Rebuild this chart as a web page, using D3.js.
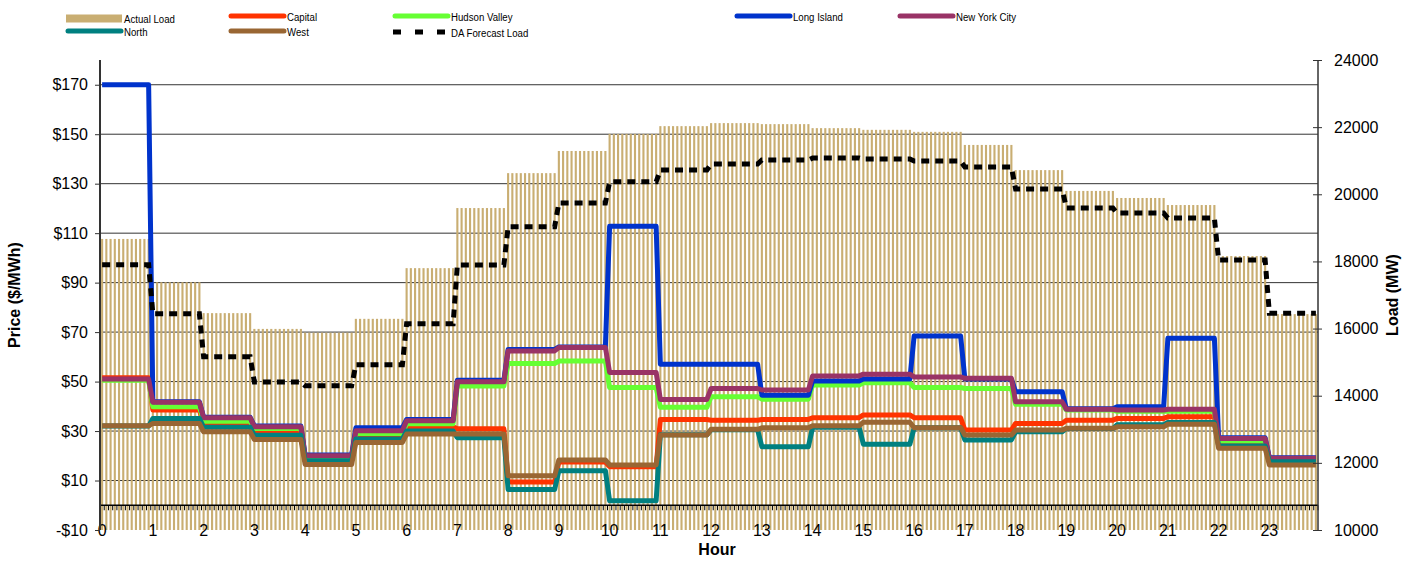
<!DOCTYPE html>
<html><head><meta charset="utf-8">
<script src="https://cdn.jsdelivr.net/npm/d3@7"></script>
<style>
body{margin:0;background:#fff;}
svg text{font-family:"Liberation Sans",Arial,sans-serif;fill:#000;}
</style></head>
<body><svg id="c" width="1404" height="561"></svg>
<script>
const hours = d3.range(24);
const hourLabels = hours.map(String);
const intervalsPerHour = 12; // 5-minute intervals
const actualLoad = [18670,17380,16460,15990,15880,16290,17800,19590,20630,21290,21800,22030,22120,22090,21970,21920,21860,21470,20720,20100,19890,19680,18160,16430];
const daForecast = [17900,16440,15160,14410,14300,14920,16140,17890,19030,19740,20370,20720,20900,21020,21080,21050,20990,20810,20160,19590,19440,19290,18040,16460];
const capital      = [51.5,38.5,33.1,30.1,19,28,31.7,30.9,9.4,17.5,15.6,34.7,34.4,34.7,35.4,36.5,35.4,30.4,33.1,34.4,35.1,35.8,25,18];
const hudsonValley = [50.5,39.8,34,31,19.5,29,33,48.2,57.3,58.3,47.6,39.6,43.9,42.9,48.6,49.5,47.6,47.2,40.8,38.5,38,38,26,18.5];
const longIsland   = [170,41.8,35.6,32,20.3,31.3,34.7,50.5,63,64,112.8,57,57,44.5,50.2,51,68.4,51,45.9,39,39.8,67.5,27.3,19.2];
const newYorkCity  = [51,41.6,35.4,31.7,20,30.1,34.2,49.9,62.4,63.8,53.7,42.8,47.2,46.6,52.3,53,51.9,51.3,41.8,38.8,38.5,38.8,27,19];
const north        = [32,35.1,31.5,28.3,18,26.8,30,27.3,6.4,14,1.8,28.5,30.5,23.7,31.5,24.7,31.3,26.4,29.7,31,32.5,33.5,24,17.6];
const west         = [32.1,33.1,29.7,26.6,16.5,25.4,28.8,28.8,11.9,18.3,16.3,28.4,30.7,31.3,32.1,33.6,31.3,28.4,30.4,31.1,31.7,32.8,23,16.3];
const priceTicks = [-10,10,30,50,70,90,110,130,150,170];
const loadTicks = [10000,12000,14000,16000,18000,20000,22000,24000];

const series = [
  {name:"Capital", values:capital, color:"#FF3300"},
  {name:"Hudson Valley", values:hudsonValley, color:"#66FF33"},
  {name:"Long Island", values:longIsland, color:"#0033CC"},
  {name:"New York City", values:newYorkCity, color:"#993366"},
  {name:"North", values:north, color:"#008080"},
  {name:"West", values:west, color:"#996633"}
];
const loadColor = "#C9AE72";

const svg = d3.select("#c");
const L = 100, R = 1318, T = 60, B = 530;
const nInt = 24*intervalsPerHour;
const idx = d3.range(nInt);
const x = d3.scaleBand().domain(idx).range([L,R]).paddingInner(0.5).paddingOuter(0.25);
const xc = i => x(i) + x.bandwidth()/2;
const yP = d3.scaleLinear().domain([-10,180]).range([B,T]);
const yL = d3.scaleLinear().domain([10000,24000]).range([B,T]);
const hourOf = i => Math.floor(i/intervalsPerHour);

// gridlines
svg.append("g").selectAll("line").data(priceTicks.filter(v=>v>-10)).join("line")
  .attr("x1",L).attr("x2",R).attr("y1",d=>yP(d)).attr("y2",d=>yP(d))
  .attr("stroke","#333").attr("stroke-width",1);

// bars
svg.append("g").selectAll("rect").data(idx).join("rect")
  .attr("x",i=>x(i)).attr("width",x.bandwidth())
  .attr("y",i=>yL(actualLoad[hourOf(i)])).attr("height",i=>B-yL(actualLoad[hourOf(i)]))
  .attr("fill",loadColor);

// x axis at price 0 with minor ticks
const gx = svg.append("g").attr("transform",`translate(0,${yP(0)})`);
gx.append("line").attr("x1",L).attr("x2",R).attr("stroke","#000").attr("stroke-width",1.5);
gx.selectAll("line.t").data(d3.range(nInt+1)).join("line").attr("class","t")
  .attr("x1",i=>L+i*x.step()).attr("x2",i=>L+i*x.step()).attr("y1",0).attr("y2",5)
  .attr("stroke","#000").attr("stroke-width",1);

// hour labels
svg.append("g").selectAll("text").data(hours).join("text")
  .attr("x",h=>xc(h*intervalsPerHour)).attr("y",B+6).attr("text-anchor","middle")
  .style("font-size","16px").text(h=>hourLabels[h]);

// price lines
const line = d3.line().x((d,i)=>xc(i)).y(d=>yP(d));
series.forEach(s=>{
  const pts = idx.map(i=>s.values[hourOf(i)]);
  svg.append("path").attr("d",line(pts)).attr("fill","none")
    .attr("stroke",s.color).attr("stroke-width",5).attr("stroke-linejoin","round");
});
// DA forecast
const lineL = d3.line().x((d,i)=>xc(i)).y(d=>yL(d));
svg.append("path").attr("d",lineL(idx.map(i=>daForecast[hourOf(i)]))).attr("fill","none")
  .attr("stroke","#000").attr("stroke-width",5).attr("stroke-dasharray","8,6");

// left axis
const gl = svg.append("g").attr("transform",`translate(${L},0)`)
  .call(d3.axisLeft(yP).tickValues(priceTicks).tickSize(5).tickPadding(7).tickFormat(d=>d<0?`-$${-d}`:`$${d}`));
gl.select(".domain").attr("stroke","#333").attr("stroke-width",2).attr("d",`M0,${T}V${B}`);
gl.selectAll(".tick line").attr("stroke","#333");
gl.selectAll("text").style("font-size","16px").attr("font-family",null);
// right axis
const gr = svg.append("g").attr("transform",`translate(${R},0)`)
  .call(d3.axisRight(yL).tickValues(loadTicks).tickSize(4).tickPadding(12).tickFormat(d3.format("d")));
gr.select(".domain").attr("stroke","#333").attr("stroke-width",1.5).attr("d",`M0,${T}V${B}`);
gr.selectAll(".tick line").attr("stroke","#333").attr("x1",-5);
gr.selectAll("text").style("font-size","16px").attr("font-family",null);

// titles
svg.append("text").attr("transform",`translate(20,${(T+B)/2}) rotate(-90)`).attr("text-anchor","middle")
  .style("font-size","16px").style("font-weight","bold").text("Price ($/MWh)");
svg.append("text").attr("transform",`translate(1398,${(T+B)/2}) rotate(-90)`).attr("text-anchor","middle")
  .style("font-size","16px").style("font-weight","bold").text("Load (MW)");
svg.append("text").attr("x",717).attr("y",555).attr("text-anchor","middle")
  .style("font-size","16px").style("font-weight","bold").text("Hour");

// legend
const legend = [
  {name:"Actual Load", type:"rect", color:loadColor, x:66, y:18},
  {name:"Capital", type:"line", color:"#FF3300", x:229, y:16},
  {name:"Hudson Valley", type:"line", color:"#66FF33", x:393, y:16},
  {name:"Long Island", type:"line", color:"#0033CC", x:735, y:16},
  {name:"New York City", type:"line", color:"#993366", x:898, y:16},
  {name:"North", type:"line", color:"#008080", x:66, y:31},
  {name:"West", type:"line", color:"#996633", x:229, y:31},
  {name:"DA Forecast Load", type:"dash", color:"#000", x:393, y:32}
];
const lg = svg.append("g");
legend.forEach(e=>{
  if(e.type==="rect") lg.append("rect").attr("x",e.x).attr("y",e.y-3.5).attr("width",56).attr("height",8).attr("fill",e.color);
  else if(e.type==="line") lg.append("line").attr("x1",e.x+2).attr("x2",e.x+55).attr("y1",e.y).attr("y2",e.y)
    .attr("stroke",e.color).attr("stroke-width",5).attr("stroke-linecap","round");
  else lg.append("line").attr("x1",e.x).attr("x2",e.x+57).attr("y1",e.y).attr("y2",e.y)
    .attr("stroke",e.color).attr("stroke-width",5).attr("stroke-dasharray","8,14");
  lg.append("text").attr("transform",`translate(${e.x+58},${e.y+4.5}) scale(0.84,1)`)
    .style("font-size","11.5px").text(e.name);
});
</script></body></html>
